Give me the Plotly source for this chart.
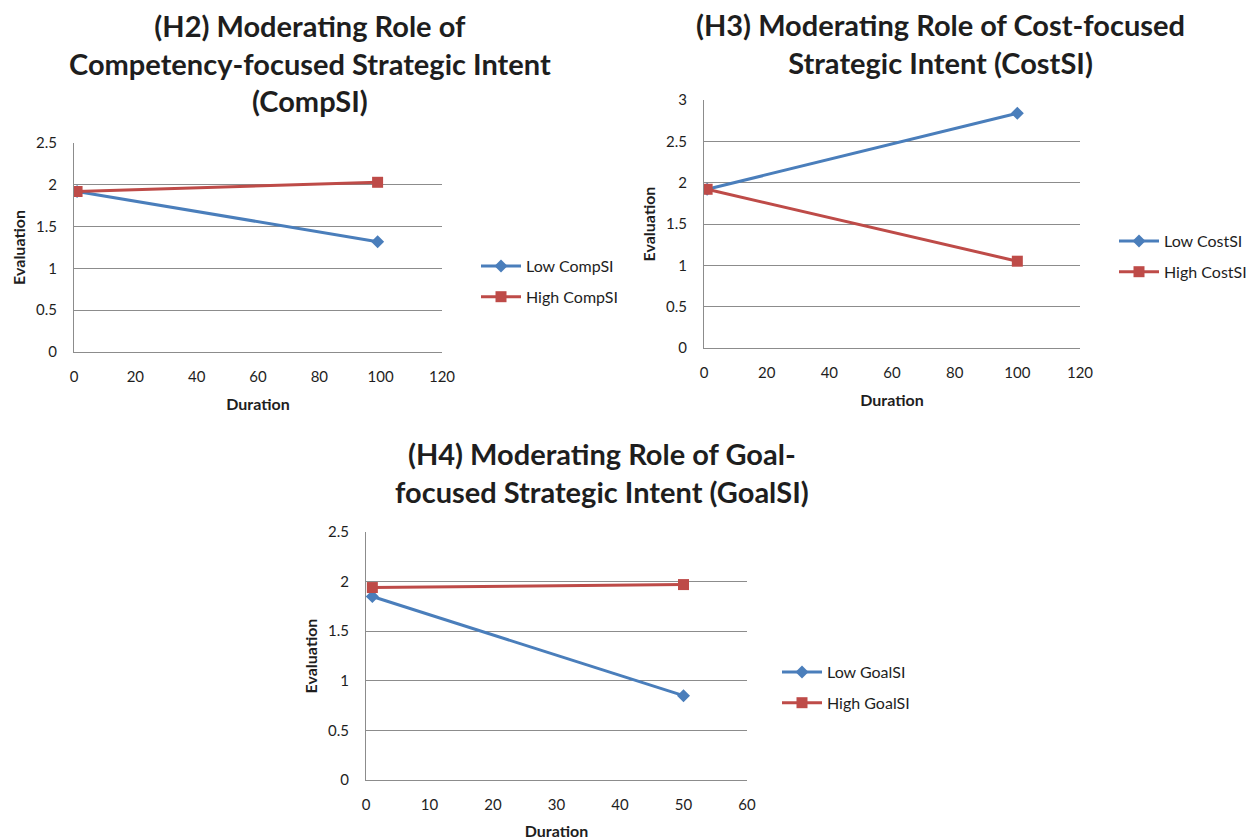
import plotly.graph_objects as go

W, H = 1255, 840
OFF = 8  # default page body margin
WF, HF = W - OFF, H - OFF

# Data
h2_duration = [1, 99]
h2_low = [1.92, 1.32]
h2_high = [1.92, 2.03]

h3_duration = [1, 100]
h3_low = [1.92, 2.84]
h3_high = [1.92, 1.05]

h4_duration = [1, 50]
h4_low = [1.85, 0.85]
h4_high = [1.94, 1.97]

titles = [
    "(H2) Moderating Role of<br>Competency-focused Strategic Intent<br>(CompSI)",
    "(H3) Moderating Role of Cost-focused<br>Strategic Intent (CostSI)",
    "(H4) Moderating Role of Goal-<br>focused Strategic Intent (GoalSI)",
]
series_names = [("Low CompSI", "High CompSI"), ("Low CostSI", "High CostSI"), ("Low GoalSI", "High GoalSI")]

BLUE = "#4A7EBB"
RED = "#BE4B48"
GRID = "#8C8C8C"
TXT = "#1E1E1E"
FONT = "Lato, 'Open Sans', sans-serif"

def px_x(p):
    return (p - OFF) / WF

def px_y(p):
    return 1 - (p - OFF) / HF

panels = [
    dict(dur=h2_duration, low=h2_low, high=h2_high, xr=[0, 120], xd=20, yr=[0, 2.5],
         box=(74, 442, 143, 352), legend=(476, 249), title=(310, 63)),
    dict(dur=h3_duration, low=h3_low, high=h3_high, xr=[0, 120], xd=20, yr=[0, 3],
         box=(704, 1080, 100, 348), legend=(1114, 224), title=(940, 43)),
    dict(dur=h4_duration, low=h4_low, high=h4_high, xr=[0, 60], xd=10, yr=[0, 2.5],
         box=(366, 747, 532, 780), legend=(777, 655), title=(602, 472)),
]

fig = go.Figure()
layout = dict(width=WF, height=HF, margin=dict(l=0, r=0, t=0, b=0, autoexpand=False),
              paper_bgcolor="white", plot_bgcolor="white",
              font=dict(family=FONT, color=TXT), annotations=[])

for i, p in enumerate(panels):
    n = "" if i == 0 else str(i + 1)
    leg = "legend" if i == 0 else f"legend{i + 1}"
    low_name, high_name = series_names[i]
    fig.add_trace(go.Scatter(x=p["dur"], y=p["low"], name=low_name, mode="lines+markers",
                             line=dict(color=BLUE, width=3),
                             marker=dict(symbol="diamond", size=10, color=BLUE),
                             xaxis="x" + n, yaxis="y" + n, legend=leg, legendgroup=f"a{i}"))
    fig.add_trace(go.Scatter(x=p["dur"], y=p["high"], name=high_name, mode="lines+markers",
                             line=dict(color=RED, width=3),
                             marker=dict(symbol="square", size=11, color=RED),
                             xaxis="x" + n, yaxis="y" + n, legend=leg, legendgroup=f"b{i}"))
    x0, x1, y0, y1 = p["box"]
    layout["xaxis" + n] = dict(domain=[px_x(x0), px_x(x1)], range=p["xr"], dtick=p["xd"],
                               anchor="y" + n, showgrid=False, showline=True, linecolor=GRID,
                               linewidth=1, zeroline=False, ticks="", automargin=False,
                               ticklabelstandoff=11,
                               tickfont=dict(size=15, color=TXT),
                               title=dict(text="<b>Duration</b>", font=dict(size=16), standoff=14))
    layout["yaxis" + n] = dict(domain=[px_y(y1), px_y(y0)], range=p["yr"], dtick=0.5,
                               anchor="x" + n, showgrid=True, gridcolor=GRID, gridwidth=1,
                               showline=True, linecolor=GRID, linewidth=1, zeroline=False,
                               ticks="", automargin=False, ticklabelstandoff=13,
                               tickfont=dict(size=15, color=TXT),
                               title=dict(text="<b>Evaluation</b>", font=dict(size=16), standoff=6))
    lx, ly = p["legend"]
    layout[leg] = dict(x=px_x(lx), y=px_y(ly), xanchor="left", yanchor="top",
                       xref="paper", yref="paper", traceorder="grouped", tracegroupgap=7,
                       font=dict(size=16, color=TXT), bgcolor="rgba(0,0,0,0)",
                       itemwidth=40)
    tx, ty = p["title"]
    layout["annotations"].append(dict(text="<b>" + titles[i] + "</b>", x=px_x(tx), y=px_y(ty),
                                      xref="paper", yref="paper", xanchor="center",
                                      yanchor="middle", showarrow=False,
                                      font=dict(size=29, family=FONT, color=TXT)))

fig.update_layout(**layout)
fig.write_html("out.html")
